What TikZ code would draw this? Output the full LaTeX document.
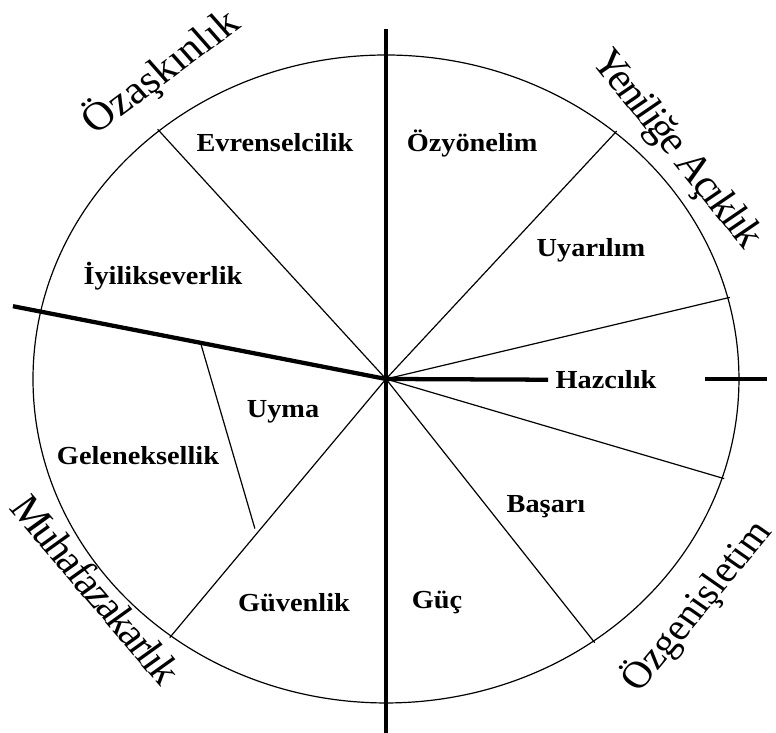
\documentclass[tikz,border=0pt]{standalone}
\usepackage{fontspec}
\setmainfont{Liberation Serif}
\newfontfamily\tightserif{Liberation Serif}[LetterSpace=-5]
\usepackage{tikz}
\usetikzlibrary{calc}
\tikzset{
    valuelabel/.style={
        font=\fontsize{19.5}{22}\selectfont\bfseries,
        inner sep=1pt,transform shape
    },
    grouplabel/.style={
        font=\fontsize{30}{32}\selectfont,
        inner sep=0pt,transform shape
    },
    axisline/.style={line width=3.2pt},
    spoke/.style={line width=0.9pt},
    rim/.style={line width=0.9pt}
}

\begin{document}
\begin{tikzpicture}[x=0.75pt,y=0.75pt,xscale=1.0895]
\useasboundingbox (-354.3,-354) rectangle (358,379);

\coordinate (centre) at (0,0);
\draw[rim] (centre) circle (324);

% thin borders between the ten values
\foreach \ang/\name in {130/evriyi,49.5/ozyuya,14.5/uyahaz,-17.8/hazbas,-54/basguc,-127.5/guvgel}{
    \coordinate (\name) at (\ang:326);
    \draw[spoke] (centre) -- (\name);
}
\coordinate (uymaA) at (168:174);
\coordinate (uymaB) at (-128.8:192);
\draw[spoke] (uymaA) -- (uymaB);

\node[valuelabel] (evr) at (-101.9,236) {Evrenselcilik};
\node[valuelabel] (ozy) at (79,236) {Özyönelim};
\node[valuelabel] (uya) at (188.2,129) {Uyarılım};
\node[valuelabel] (iyi) at (-204.7,103) {İyilikseverlik};
\node[valuelabel,inner sep=5pt] (haz) at (202,-1) {Hazcılık};
\node[valuelabel] (uym) at (-94.5,-33) {Uyma};
\node[valuelabel] (gel) at (-227.6,-77) {Geleneksellik};
\node[valuelabel] (guv) at (-84.4,-224) {Güvenlik};
\node[valuelabel] (guc) at (46.8,-224) {Güç};
\node[valuelabel] (bas) at (146.9,-128) {Başarı};

% the two main axes
\coordinate (axtop) at (90:350);
\coordinate (axbottom) at (0,-356);
\coordinate (axleft) at (168:350);
\coordinate (axgap) at (0:293);
\coordinate (axright) at (0:350);
\draw[axisline] (axtop) -- (axbottom);
\draw[axisline] (centre) -- (axleft);
\draw[axisline] (centre) -- (haz);
\draw[axisline] (axgap) -- (axright);

\node[grouplabel,rotate=39] (ozask) at (-206.5,307) {Özaşkınlık};
\node[grouplabel,rotate=-53.4] (yenil) at (266,229) {\tightserif Yeniliğe Açıklık};
\node[grouplabel,rotate=52.7,font=\fontsize{28.5}{30}\selectfont] (ozgen) at (285,-227) {Özgenişletim};
\node[grouplabel,rotate=-52] (muhaf) at (-266,-210) {\tightserif Muhafazakarlık};

\end{tikzpicture}
\end{document}
